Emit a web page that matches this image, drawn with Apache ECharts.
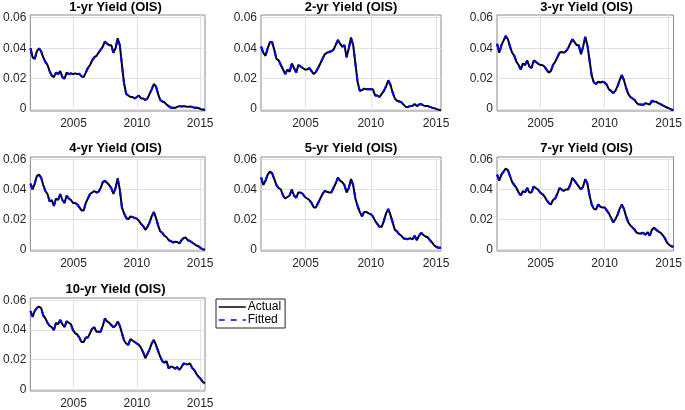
<!DOCTYPE html>
<html><head><meta charset="utf-8">
<script src="https://cdn.jsdelivr.net/npm/echarts@6/dist/echarts.min.js"></script>
<style>html,body{margin:0;padding:0;background:#fff}#c{width:685px;height:410px}</style>
</head><body><div id="c"></div>
<script>
const titles = ['1-yr Yield (OIS)','2-yr Yield (OIS)','3-yr Yield (OIS)','4-yr Yield (OIS)','5-yr Yield (OIS)','7-yr Yield (OIS)','10-yr Yield (OIS)'];
const xTicks = [2005, 2010, 2015];
const yTicks = [0, 0.02, 0.04, 0.06];
const legendNames = ['Actual', 'Fitted'];
const startYear = 2001.6, endYear = 2015.37;

const actual1 = [0.040,0.034,0.033,0.038,0.040,0.038,0.034,0.031,0.029,0.025,
0.022,0.021,0.024,0.023,0.025,0.021,0.020,0.024,0.023,0.0235,
0.023,0.0235,0.023,0.0232,0.0215,0.021,0.024,0.027,0.029,0.032,
0.034,0.035,0.037,0.039,0.041,0.0445,0.043,0.042,0.042,0.037,
0.040,0.0465,0.042,0.029,0.017,0.010,0.009,0.008,0.008,0.007,
0.008,0.009,0.007,0.007,0.006,0.007,0.010,0.013,0.0165,0.015,
0.010,0.006,0.005,0.0045,0.003,0.002,0.001,0.001,0.0008,0.0015,
0.002,0.0018,0.002,0.0018,0.0015,0.0018,0.0015,0.001,0.001,0.0008,
0.0,-0.0002,-0.0006];
const fitted1 = [0.040,0.034,0.033,0.038,0.040,0.038,0.034,0.031,0.029,0.025,
0.022,0.021,0.024,0.023,0.025,0.021,0.020,0.024,0.023,0.0235,
0.023,0.0235,0.023,0.0232,0.0215,0.021,0.024,0.027,0.029,0.032,
0.034,0.035,0.037,0.039,0.041,0.0443,0.043,0.042,0.042,0.037,
0.040,0.0462,0.042,0.029,0.017,0.010,0.009,0.008,0.008,0.007,
0.008,0.009,0.007,0.007,0.006,0.007,0.010,0.013,0.0163,0.015,
0.010,0.006,0.005,0.0045,0.003,0.002,0.001,0.001,0.0008,0.0015,
0.002,0.0018,0.002,0.0018,0.0015,0.0018,0.0015,0.001,0.001,0.0008,
0.0,-0.0002,-0.0006];

const actual2 = [0.041,0.037,0.035,0.040,0.044,0.044,0.039,0.033,0.032,0.029,
0.026,0.023,0.026,0.0245,0.030,0.027,0.024,0.029,0.028,0.027,
0.026,0.026,0.027,0.025,0.023,0.0245,0.027,0.030,0.033,0.036,
0.037,0.0375,0.038,0.039,0.042,0.0455,0.043,0.041,0.042,0.034,
0.040,0.047,0.042,0.030,0.018,0.012,0.0125,0.0135,0.013,0.0132,
0.013,0.013,0.009,0.009,0.008,0.010,0.012,0.015,0.019,0.016,
0.011,0.007,0.0055,0.005,0.0045,0.003,0.0015,0.0015,0.002,0.002,
0.0035,0.002,0.003,0.0033,0.0025,0.002,0.002,0.0015,0.001,0.0007,
0.0,-0.0003,-0.0007];
const fitted2 = [0.041,0.037,0.035,0.040,0.044,0.044,0.039,0.033,0.032,0.029,
0.026,0.023,0.026,0.0245,0.030,0.027,0.024,0.029,0.028,0.027,
0.026,0.026,0.027,0.025,0.023,0.0245,0.027,0.030,0.033,0.036,
0.037,0.0375,0.038,0.039,0.042,0.0452,0.043,0.041,0.042,0.034,
0.040,0.0466,0.042,0.030,0.018,0.012,0.0125,0.0135,0.013,0.0132,
0.013,0.013,0.009,0.009,0.008,0.010,0.012,0.015,0.0188,0.016,
0.011,0.007,0.0055,0.005,0.0045,0.003,0.0015,0.0015,0.002,0.002,
0.0035,0.002,0.003,0.0033,0.0025,0.002,0.002,0.0015,0.001,0.0007,
0.0,-0.0003,-0.0007];

const actual3 = [0.043,0.037,0.042,0.045,0.048,0.046,0.041,0.037,0.035,0.031,
0.029,0.026,0.030,0.029,0.032,0.028,0.027,0.032,0.031,0.030,
0.029,0.029,0.028,0.026,0.024,0.025,0.029,0.031,0.034,0.037,
0.0375,0.037,0.038,0.040,0.043,0.046,0.044,0.042,0.042,0.036,
0.041,0.0475,0.042,0.032,0.022,0.0175,0.0165,0.018,0.0175,0.018,
0.0175,0.016,0.013,0.012,0.0105,0.012,0.015,0.019,0.0225,0.019,
0.014,0.010,0.008,0.007,0.006,0.004,0.003,0.003,0.0027,0.004,
0.0035,0.003,0.0055,0.005,0.0048,0.004,0.0033,0.0025,0.0018,0.0011,
0.0005,-0.0002,-0.0007];
const fitted3 = [0.043,0.037,0.042,0.045,0.048,0.046,0.041,0.037,0.035,0.031,
0.029,0.026,0.030,0.029,0.032,0.028,0.027,0.032,0.031,0.030,
0.029,0.029,0.028,0.026,0.024,0.025,0.029,0.031,0.034,0.037,
0.0375,0.037,0.038,0.040,0.043,0.0457,0.044,0.042,0.042,0.036,
0.041,0.0472,0.042,0.032,0.022,0.0175,0.0165,0.018,0.0175,0.018,
0.0175,0.016,0.013,0.012,0.0105,0.012,0.015,0.019,0.0222,0.019,
0.014,0.010,0.008,0.007,0.006,0.004,0.003,0.003,0.0027,0.004,
0.0035,0.003,0.0055,0.005,0.0048,0.004,0.0033,0.0025,0.0018,0.0011,
0.0005,-0.0002,-0.0007];

const actual4 = [0.044,0.040,0.044,0.049,0.050,0.048,0.043,0.039,0.037,0.032,
0.033,0.029,0.034,0.033,0.037,0.033,0.031,0.036,0.034,0.033,
0.031,0.031,0.030,0.028,0.026,0.026,0.031,0.034,0.037,0.038,
0.039,0.038,0.0385,0.041,0.045,0.046,0.0445,0.043,0.041,0.037,
0.041,0.0475,0.040,0.028,0.024,0.021,0.020,0.022,0.0215,0.021,
0.0205,0.019,0.017,0.0155,0.013,0.015,0.018,0.022,0.025,0.021,
0.016,0.012,0.011,0.009,0.008,0.006,0.0055,0.0045,0.005,0.0048,
0.0038,0.006,0.0075,0.0078,0.006,0.0055,0.0045,0.0035,0.0025,0.002,
0.0008,0.0,-0.0004];
const fitted4 = [0.044,0.040,0.044,0.049,0.050,0.048,0.043,0.039,0.037,0.032,
0.033,0.029,0.034,0.033,0.037,0.033,0.031,0.036,0.034,0.033,
0.031,0.031,0.030,0.028,0.026,0.026,0.031,0.034,0.037,0.038,
0.039,0.038,0.0385,0.041,0.045,0.0458,0.0445,0.043,0.041,0.037,
0.041,0.0472,0.040,0.028,0.024,0.021,0.020,0.022,0.0215,0.021,
0.0205,0.019,0.017,0.0155,0.013,0.015,0.018,0.022,0.0247,0.021,
0.016,0.012,0.011,0.009,0.008,0.006,0.0055,0.0045,0.005,0.0048,
0.0038,0.006,0.0075,0.0078,0.006,0.0055,0.0045,0.0035,0.0025,0.002,
0.0008,0.0,-0.0004];

const actual5 = [0.048,0.043,0.046,0.050,0.052,0.051,0.047,0.043,0.041,0.040,
0.036,0.034,0.035,0.036,0.040,0.036,0.0345,0.038,0.038,0.037,
0.035,0.034,0.033,0.031,0.028,0.028,0.031,0.034,0.037,0.039,
0.0385,0.038,0.038,0.041,0.044,0.048,0.046,0.045,0.043,0.038,
0.041,0.047,0.043,0.034,0.029,0.025,0.022,0.025,0.025,0.024,
0.0235,0.022,0.019,0.017,0.015,0.015,0.019,0.024,0.027,0.023,
0.018,0.013,0.012,0.010,0.009,0.0072,0.007,0.0067,0.0075,0.0065,
0.009,0.006,0.009,0.011,0.0095,0.0085,0.008,0.006,0.0045,0.0025,
0.0015,0.001,0.001];
const fitted5 = [0.048,0.043,0.046,0.050,0.052,0.051,0.047,0.043,0.041,0.040,
0.036,0.034,0.035,0.036,0.040,0.036,0.0345,0.038,0.038,0.037,
0.035,0.034,0.033,0.031,0.028,0.028,0.031,0.034,0.037,0.039,
0.0385,0.038,0.038,0.041,0.044,0.0477,0.046,0.045,0.043,0.038,
0.041,0.0467,0.043,0.034,0.029,0.025,0.022,0.025,0.025,0.024,
0.0235,0.022,0.019,0.017,0.015,0.015,0.019,0.024,0.0268,0.023,
0.018,0.013,0.012,0.010,0.009,0.0072,0.007,0.0067,0.0075,0.0065,
0.009,0.006,0.009,0.011,0.0095,0.0085,0.008,0.006,0.0045,0.0025,
0.0015,0.001,0.001];

const actual6 = [0.050,0.046,0.050,0.052,0.054,0.053,0.049,0.045,0.043,0.041,
0.038,0.036,0.039,0.038,0.041,0.038,0.038,0.042,0.041,0.040,
0.038,0.037,0.0355,0.033,0.031,0.030,0.033,0.034,0.037,0.041,
0.040,0.039,0.040,0.040,0.043,0.0478,0.046,0.044,0.042,0.040,
0.042,0.047,0.044,0.036,0.030,0.027,0.0265,0.030,0.0285,0.028,
0.028,0.026,0.024,0.021,0.018,0.020,0.023,0.027,0.030,0.027,
0.022,0.018,0.016,0.0145,0.013,0.011,0.0105,0.0105,0.011,0.0096,
0.0115,0.009,0.013,0.0144,0.013,0.012,0.011,0.0095,0.0075,0.0045,
0.003,0.002,0.0016];
const fitted6 = [0.050,0.046,0.050,0.052,0.054,0.053,0.049,0.045,0.043,0.041,
0.038,0.036,0.039,0.038,0.041,0.038,0.038,0.042,0.041,0.040,
0.038,0.037,0.0355,0.033,0.031,0.030,0.033,0.034,0.037,0.041,
0.040,0.039,0.040,0.040,0.043,0.0475,0.046,0.044,0.042,0.040,
0.042,0.0467,0.044,0.036,0.030,0.027,0.0265,0.030,0.0285,0.028,
0.028,0.026,0.024,0.021,0.018,0.020,0.023,0.027,0.0298,0.027,
0.022,0.018,0.016,0.0145,0.013,0.011,0.0105,0.0105,0.011,0.0096,
0.0115,0.009,0.013,0.0144,0.013,0.012,0.011,0.0095,0.0075,0.0045,
0.003,0.002,0.0016];

const actual7 = [0.053,0.049,0.053,0.055,0.056,0.055,0.050,0.048,0.045,0.043,
0.042,0.040,0.045,0.044,0.047,0.044,0.042,0.046,0.045,0.044,
0.040,0.038,0.037,0.035,0.032,0.032,0.035,0.035,0.038,0.041,
0.042,0.039,0.039,0.039,0.043,0.048,0.046,0.045,0.0435,0.042,
0.043,0.046,0.043,0.038,0.033,0.031,0.030,0.034,0.033,0.032,
0.031,0.030,0.028,0.025,0.021,0.024,0.027,0.031,0.0335,0.030,
0.026,0.022,0.019,0.018,0.019,0.014,0.0155,0.015,0.014,0.015,
0.013,0.015,0.0175,0.017,0.0168,0.0175,0.0145,0.013,0.0105,0.0085,
0.007,0.005,0.004];
const fitted7 = [0.053,0.049,0.053,0.055,0.056,0.055,0.050,0.048,0.045,0.043,
0.042,0.040,0.045,0.044,0.047,0.044,0.042,0.046,0.045,0.044,
0.040,0.038,0.037,0.035,0.032,0.032,0.035,0.035,0.038,0.041,
0.042,0.039,0.039,0.039,0.043,0.0477,0.046,0.045,0.0435,0.042,
0.043,0.0458,0.043,0.038,0.033,0.031,0.030,0.034,0.033,0.032,
0.031,0.030,0.028,0.025,0.021,0.024,0.027,0.031,0.0332,0.030,
0.026,0.022,0.019,0.018,0.019,0.014,0.0155,0.015,0.014,0.015,
0.013,0.015,0.0175,0.017,0.0168,0.0175,0.0145,0.013,0.0105,0.0085,
0.007,0.005,0.004];

const actualSets = [actual1, actual2, actual3, actual4, actual5, actual6, actual7];
const fittedSets = [fitted1, fitted2, fitted3, fitted4, fitted5, fitted6, fitted7];

const n = actual1.length;
const dates = [];
for (let i = 0; i < n; i++) dates.push(startYear + i * (endYear - startYear) / (n - 1));

const panels = [
  {left: 26, top: 15, width: 179, height: 96},
  {left: 261, top: 15, width: 180, height: 96},
  {left: 497, top: 15, width: 179, height: 96},
  {left: 26, top: 157, width: 179, height: 94},
  {left: 261, top: 157, width: 180, height: 94},
  {left: 497, top: 157, width: 179, height: 94},
  {left: 26, top: 298, width: 179, height: 94}
];
const titleTops = [1, 142, 283];

const FONT = '"Liberation Sans", Arial, Helvetica, sans-serif';
const GRIDCOL = '#e2e2e2';
const grid = [], xAxis = [], yAxis = [], series = [], title = [];
panels.forEach((p, k) => {
  grid.push({left: p.left, top: p.top, width: p.width, height: p.height, show: true,
    borderColor: '#8a8a8a', borderWidth: 1, backgroundColor: '#fff', containLabel: false});
  title.push({text: titles[k], left: p.left + p.width / 2, top: titleTops[Math.floor(k / 3)],
    textAlign: 'center', padding: 0,
    textStyle: {fontFamily: FONT, fontSize: 13, fontWeight: 'bold', color: '#000'}});
  xAxis.push({type: 'value', gridIndex: k, min: startYear - 0.01, max: endYear + 0.01,
    axisLine: {show: false},
    axisTick: {show: true, inside: true, length: 3, customValues: xTicks, lineStyle: {color: '#262626', width: 1}},
    axisLabel: {customValues: xTicks, margin: 7, fontFamily: FONT, fontSize: 12, color: '#262626',
      formatter: v => String(v)},
    splitLine: {show: false}});
  yAxis.push({type: 'value', gridIndex: k, min: -0.0012, max: 0.0618,
    axisLine: {show: false},
    axisTick: {show: true, inside: true, length: 3, customValues: yTicks, lineStyle: {color: '#262626', width: 1}},
    axisLabel: {customValues: yTicks, margin: 4, fontFamily: FONT, fontSize: 12, color: '#262626',
      formatter: v => (Math.abs(v) < 1e-9 ? '0' : v.toFixed(2))},
    splitLine: {show: false}});
  // grid lines at the tick values
  series.push({type: 'line', xAxisIndex: k, yAxisIndex: k, data: [], silent: true, z: 1,
    markLine: {silent: true, z: 1, symbol: ['none', 'none'], animation: false,
      label: {show: false}, emphasis: {disabled: true},
      lineStyle: {color: GRIDCOL, width: 1, type: 'solid'},
      data: xTicks.map(v => ({xAxis: v})).concat(yTicks.map(v => ({yAxis: v})))}});
  series.push({type: 'line', name: legendNames[0], xAxisIndex: k, yAxisIndex: k,
    data: actualSets[k].map((v, i) => [dates[i], v]),
    symbol: 'none', z: 2, silent: true,
    lineStyle: {color: '#000000', width: 2}, itemStyle: {color: '#000000'}});
  series.push({type: 'line', name: legendNames[1], xAxisIndex: k, yAxisIndex: k,
    data: fittedSets[k].map((v, i) => [dates[i], v]),
    symbol: 'none', z: 3, silent: true,
    lineStyle: {color: '#0000ff', width: 2, type: [6, 6]}, itemStyle: {color: '#0000ff'}});
});

const chart = echarts.init(document.getElementById('c'), null, {renderer: 'canvas'});
chart.setOption({
  animation: false,
  backgroundColor: '#ffffff',
  title: title,
  grid: grid, xAxis: xAxis, yAxis: yAxis, series: series,
  legend: {data: legendNames, left: 216, top: 299, orient: 'vertical',
    itemWidth: 27, itemHeight: 12, itemGap: 1, padding: [2, 4, 2, 2],
    borderColor: '#262626', borderWidth: 1, backgroundColor: '#fff',
    selectedMode: false,
    itemStyle: {opacity: 0, borderWidth: 0},
    lineStyle: {width: 1.5},
    textStyle: {fontFamily: FONT, fontSize: 12, color: '#000', padding: [0, 0, 0, -3]}}
});
</script></body></html>
